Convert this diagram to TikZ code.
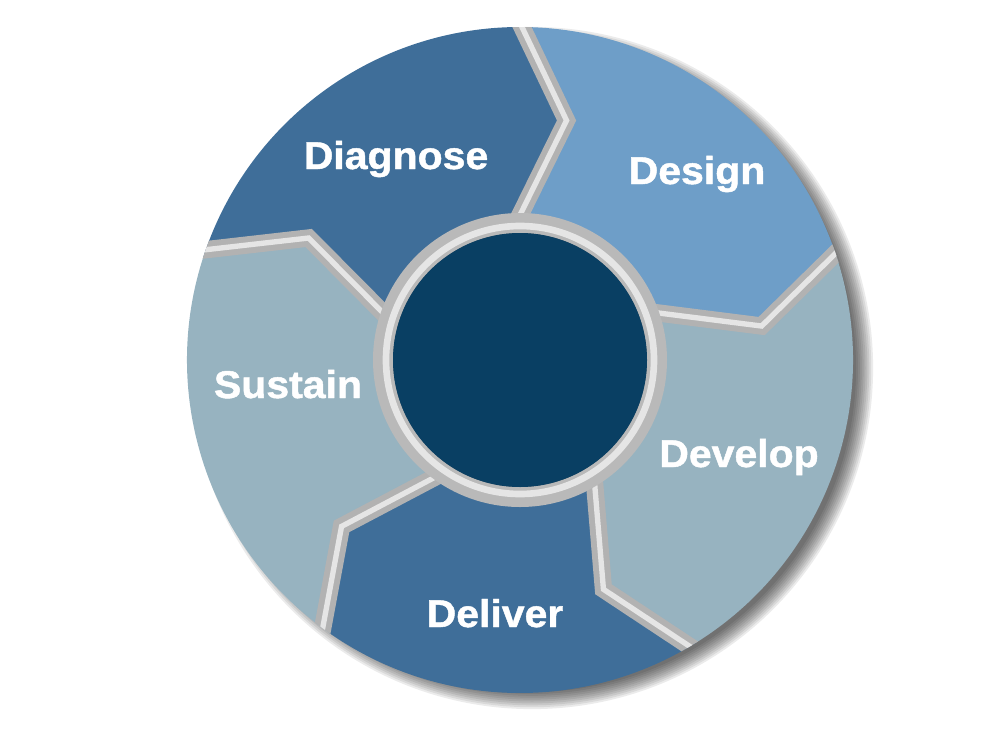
\documentclass[tikz,border=0pt]{standalone}
\usepackage{fontspec}
\setmainfont{Liberation Sans}
\newfontfamily\segfont[FakeStretch=1.06,BoldFeatures={FakeBold=1.2}]{Liberation Sans}
\usepackage{tikz}

\definecolor{segDark}{RGB}{63,110,153}
\definecolor{segLight}{RGB}{110,158,200}
\definecolor{segGrey}{RGB}{151,179,192}
\definecolor{coreBlue}{RGB}{9,63,99}

\begin{document}
\begin{tikzpicture}[x=0.75pt,y=0.75pt,yscale=-1,xscale=1,
  seglabel/.style={text=white,inner sep=0pt,anchor=base,font=\segfont\bfseries\fontsize{29}{29}\selectfont},
  gapline/.style={line width=13pt,line join=miter,draw=gray!60},
  gaplight/.style={line width=4pt,line join=miter,draw=gray!20}]
%set diagram to 1000 x 750
\path (0,0) rectangle (1000,750);

%Shadow of the wheel
\foreach \k in {0,...,9}
  \fill[black,opacity=0.08] (532,368) circle[radius=324+\k*1.9];

\begin{scope}[shift={(520,360)}]
%Shape: Diagnose
\fill[segDark] (198:333) arc[start angle=198,end angle=269,radius=333] -- (281:244) -- (269:146) arc[start angle=269,end angle=198,radius=146] -- (210:244) -- cycle;
%Shape: Design
\fill[segLight] (269:333) arc[start angle=269,end angle=340,radius=333] -- (352:244) -- (340:146) arc[start angle=340,end angle=269,radius=146] -- (281:244) -- cycle;
%Shape: Develop
\fill[segGrey] (340:333) arc[start angle=340,end angle=418,radius=333] -- (430:244) -- (418:146) arc[start angle=418,end angle=340,radius=146] -- (352:244) -- cycle;
%Shape: Deliver
\fill[segDark] (418:333) arc[start angle=418,end angle=485,radius=333] -- (497:244) -- (485:146) arc[start angle=485,end angle=418,radius=146] -- (430:244) -- cycle;
%Shape: Sustain
\fill[segGrey] (485:333) arc[start angle=485,end angle=558,radius=333] -- (570:244) -- (558:146) arc[start angle=558,end angle=485,radius=146] -- (497:244) -- cycle;

%Gaps between the segments
\begin{scope}
\clip (0,0) circle[radius=333];
\foreach \a in {269,340,418,485,558} {
  \draw[gapline] (\a:350) -- (\a+12:244) -- (\a:140);
  \draw[gaplight] (\a:350) -- (\a+12:244) -- (\a:140);
}
\end{scope}

%Ring round the core
\draw[gray!55,line width=15pt] (0,0) circle[radius=137];
\draw[gray!20,line width=5pt] (0,0) circle[radius=134];
%Shape: Core
\fill[coreBlue] (0,0) circle[radius=127];
\end{scope}

% Text Node
\node[seglabel] (diagnose) at (396,169) {Diagnose};
% Text Node
\node[seglabel] (design) at (697,184) {Design};
% Text Node
\node[seglabel] (develop) at (739,467) {Develop};
% Text Node
\node[seglabel] (deliver) at (495,627) {Deliver};
% Text Node
\node[seglabel] (sustain) at (288,398) {Sustain};

\end{tikzpicture}
\end{document}
